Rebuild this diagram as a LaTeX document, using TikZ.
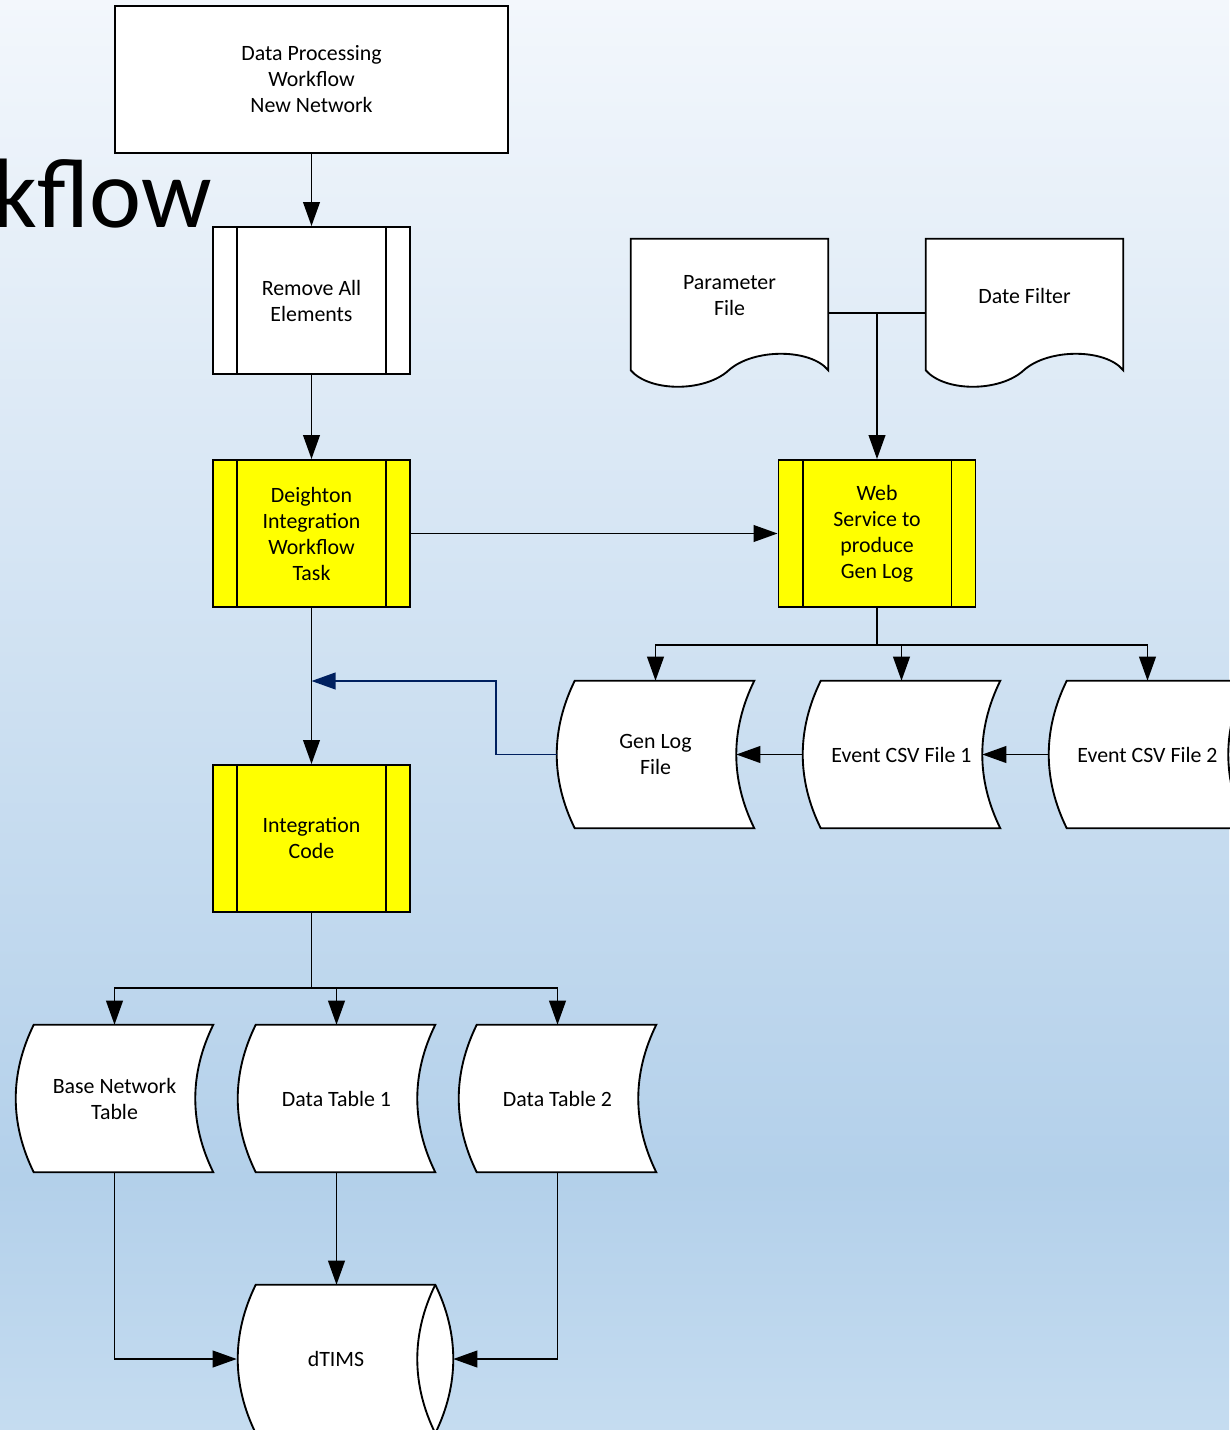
\documentclass[tikz,border=0pt]{standalone}
\usepackage{fontspec}
\setmainfont{Carlito}
\usetikzlibrary{arrows.meta,calc}
\pgfdeclarelayer{backdrop}
\pgfdeclarelayer{outline}
\pgfsetlayers{backdrop,outline,main}
\definecolor{skytop}{HTML}{F3F7FC}
\definecolor{skymid}{HTML}{B3D0EA}
\definecolor{skybot}{HTML}{C5DCF0}
\definecolor{taskyellow}{HTML}{FFFF00}
\definecolor{navy}{HTML}{002060}

\begin{document}
\begin{tikzpicture}[x=0.75pt,y=-0.75pt,
  every node/.style={font=\fontsize{16.4}{19.5}\selectfont, align=center, inner sep=0pt},
  box/.style={draw, line width=1.4pt, fill=white, minimum width=294.75pt, minimum height=110.25pt},
  proc/.style={draw, line width=1.4pt, fill=white, minimum width=147.75pt, minimum height=110.25pt},
  task/.style={proc, fill=taskyellow},
  store/.style={minimum width=147.75pt, minimum height=110.25pt},
  docu/.style={minimum width=147.75pt, minimum height=111pt},
  drum/.style={minimum width=148.5pt, minimum height=111pt},
  link/.style={line width=1.4pt},
  flow/.style={link, -{Triangle[length=18pt,width=12.5pt]}},
  back/.style={line width=1.4pt, draw=navy, color=navy, -{Triangle[length=18pt,width=12.5pt]}},
  outl/.style={line width=1.4pt, draw=black, fill=white},
]
\useasboundingbox (0,0) rectangle (1229,1430);

% graded sky backdrop
\begin{pgfonlayer}{backdrop}
  \shade[top color=skytop, bottom color=skymid] (0,0) rectangle (1229,1181);
  \shade[top color=skymid, bottom color=skybot] (0,1180) rectangle (1229,1430);
\end{pgfonlayer}

% title fragment
\node[anchor=base east, font=\fontsize{74}{88}\selectfont] (ttl) at (212,228) {kflow};

% process boxes
\node[box] (top) at (311.5,79.5) {Data Processing\\Workflow\\New Network};
\node[proc] (rem) at (311.5,300.5) {Remove All\\Elements};
\node[task] (dit) at (311.5,533.5) {Deighton\\Integration\\Workflow\\Task};
\node[task] (web) at (877,533.5) {Web\\Service to\\produce\\Gen Log};
\node[task] (ic) at (311.5,838.5) {Integration\\Code};

% documents
\node[docu] (par) at (729.5,313) {};
\node (parT) at (729.5,296) {Parameter\\File};
\node[docu] (dat) at (1024.5,313) {};
\node (datT) at (1024.5,296) {Date Filter};

% stored data
\node[store] (gen) at (655.5,754.5) {Gen Log\\File};
\node[store] (ev1) at (901.5,754.5) {Event CSV File 1};
\node[store] (ev2) at (1147.5,754.5) {Event CSV File 2};
\node[store] (bnt) at (114.5,1098.5) {Base Network\\Table};
\node[store] (dt1) at (336.5,1098.5) {Data Table 1};
\node[store] (dt2) at (557.5,1098.5) {Data Table 2};
\node[drum] (dtm) at (336,1359) {dTIMS};

% side bars of predefined processes
\foreach \n in {rem,dit,web,ic}{
  \draw[link] ([xshift=18.75pt]\n.north west) -- ([xshift=18.75pt]\n.south west);
  \draw[link] ([xshift=-18.75pt]\n.north east) -- ([xshift=-18.75pt]\n.south east);
}

\begin{pgfonlayer}{outline}
  \foreach \n in {gen,ev1,ev2,bnt,dt1,dt2}{
    \draw[outl] ([shift={(18,0)}]\n.north west) -- (\n.north east)
      .. controls ([shift={(-24,49)}]\n.north east) and ([shift={(-24,-49)}]\n.south east) .. (\n.south east)
      -- ([shift={(18,0)}]\n.south west)
      .. controls ([shift={(-6,-49)}]\n.south west) and ([shift={(-6,49)}]\n.north west) .. ([shift={(18,0)}]\n.north west)
      -- cycle;
  }
  \foreach \n in {par,dat}{
    \draw[outl] (\n.north west) -- (\n.north east) -- ([shift={(0,-17)}]\n.south east)
      .. controls ([shift={(-18,-39)}]\n.south east) and ([shift={(-75,-39)}]\n.south east) .. ([shift={(98,-17)}]\n.south west)
      .. controls ([shift={(74,5)}]\n.south west) and ([shift={(19,5)}]\n.south west) .. ([shift={(0,-17)}]\n.south west)
      -- cycle;
  }
  \draw[outl] ([shift={(19,0)}]dtm.north west) -- (dtm.north east)
    .. controls ([shift={(24,49)}]dtm.north east) and ([shift={(24,-49)}]dtm.south east) .. (dtm.south east)
    -- ([shift={(19,0)}]dtm.south west)
    .. controls ([shift={(-5,-49)}]dtm.south west) and ([shift={(-5,49)}]dtm.north west) .. ([shift={(19,0)}]dtm.north west)
    -- cycle;
  \draw[link] (dtm.north east)
    .. controls ([shift={(-24,49)}]dtm.north east) and ([shift={(-24,-49)}]dtm.south east) .. (dtm.south east);
\end{pgfonlayer}

% connectors
\draw[flow] (top.south) -- (rem.north);
\draw[flow] (rem.south) -- (dit.north);
\draw[flow] (dit.east) -- (web.west);
\draw[flow] (dit.south) -- (ic.north);
\draw[link] (par.east) -- (dat.west);
\draw[flow] (web.north |- par.east) -- (web.north);

\path (web.south) ++(0,37) coordinate (wfork);
\draw[link] (web.south) -- (wfork);
\foreach \n in {gen,ev1,ev2} \draw[flow] (wfork) -| (\n.north);
\draw[flow] (ev1.west) -- ([xshift=-13.5pt]gen.east);
\draw[flow] (ev2.west) -- ([xshift=-13.5pt]ev1.east);

\coordinate (bend) at (496,681);
\draw[back] (gen.west) -| (bend) -- (dit.south |- bend);

\path (ic.south) ++(0,75) coordinate (ifork);
\draw[link] (ic.south) -- (ifork);
\foreach \n in {bnt,dt1,dt2} \draw[flow] (ifork) -| (\n.north);
\draw[flow] (bnt.south) |- (dtm.west);
\draw[flow] (dt1.south) -- (dt1.south |- dtm.north);
\draw[flow] (dt2.south) |- ([xshift=13.5pt]dtm.east);
\end{tikzpicture}
\end{document}
